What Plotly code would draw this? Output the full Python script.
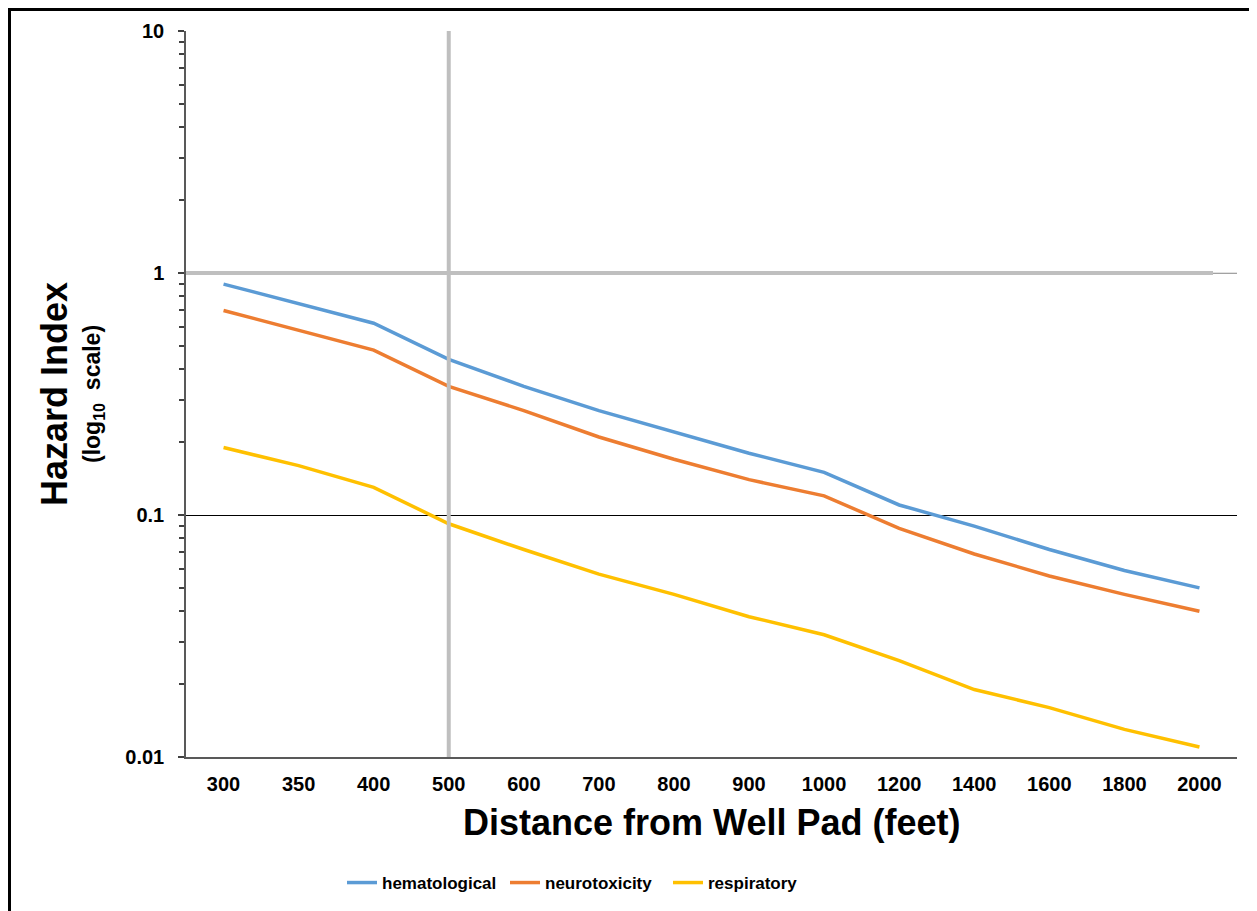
import plotly.graph_objects as go

distances = ["300", "350", "400", "500", "600", "700", "800", "900", "1000",
             "1200", "1400", "1600", "1800", "2000"]
hematological = [0.90, 0.75, 0.62, 0.44, 0.34, 0.27, 0.22, 0.18, 0.15,
                 0.11, 0.090, 0.072, 0.059, 0.050]
neurotoxicity = [0.70, 0.58, 0.48, 0.34, 0.27, 0.21, 0.17, 0.14, 0.12,
                 0.088, 0.069, 0.056, 0.047, 0.040]
respiratory = [0.19, 0.16, 0.13, 0.092, 0.072, 0.057, 0.047, 0.038, 0.032,
               0.025, 0.019, 0.016, 0.013, 0.011]
y_ticks = [0.01, 0.1, 1, 10]
y_tick_labels = ["0.01", "0.1", "1", "10"]
series = [("hematological", hematological, "#5B9BD5"),
          ("neurotoxicity", neurotoxicity, "#ED7D31"),
          ("respiratory", respiratory, "#FFC000")]
threshold_hi = 1
threshold_dist = "500"

FONT = "Arial, Liberation Sans, sans-serif"
W, H = 1257, 911
# page body has an 8px margin; coordinates below are figure coordinates
L, R, T, B = 178, 1229, 23, 749


def px(xp):
    return (xp - L) / (R - L)


def py(yp):
    return (B - yp) / (B - T)


fig = go.Figure()
for name, vals, col in series:
    fig.add_trace(go.Scatter(x=distances, y=vals, mode="lines", name=name,
                             line=dict(color=col, width=3.5)))

shapes = [
    # threshold lines
    dict(type="line", xref="paper", yref="y", x0=0, x1=px(1205), y0=threshold_hi, y1=threshold_hi,
         line=dict(color="#BFBFBF", width=4), layer="above"),
    dict(type="line", xref="paper", yref="y", x0=px(1205), x1=1, y0=threshold_hi, y1=threshold_hi,
         line=dict(color="#D9D9D9", width=1.5), layer="above"),
    dict(type="line", xref="x", yref="paper", x0=distances.index(threshold_dist),
         x1=distances.index(threshold_dist), y0=0, y1=1,
         line=dict(color="#BFBFBF", width=4), layer="above"),
    # outer frame
    dict(type="line", xref="paper", yref="paper", x0=px(1.5), x1=px(1.5), y0=py(0), y1=py(915),
         line=dict(color="black", width=3)),
    dict(type="line", xref="paper", yref="paper", x0=px(0), x1=px(1249), y0=py(1.5), y1=py(1.5),
         line=dict(color="black", width=3)),
    dict(type="line", xref="paper", yref="paper", x0=px(1247.5), x1=px(1247.5), y0=py(1), y1=py(915),
         line=dict(color="#D0D0D0", width=1)),
]

annotations = [
    dict(text="<b>Hazard Index</b>", xref="paper", yref="paper", x=px(46), y=py(386),
         textangle=-90, showarrow=False, font=dict(size=36, color="black", family=FONT),
         xanchor="center", yanchor="middle"),
    dict(text="<b>(log<sub>10</sub>  scale)</b>", xref="paper", yref="paper", x=px(85), y=py(386),
         textangle=-90, showarrow=False, font=dict(size=23, color="black", family=FONT),
         xanchor="center", yanchor="middle"),
    dict(text="<b>Distance from Well Pad (feet)</b>", xref="paper", yref="paper", x=0.5, y=py(814),
         showarrow=False, font=dict(size=36, color="black", family=FONT),
         xanchor="center", yanchor="middle"),
]

fig.update_layout(
    width=W, height=H,
    margin=dict(l=L, r=W - R, t=T, b=H - B, autoexpand=False),
    paper_bgcolor="white", plot_bgcolor="white",
    font=dict(family=FONT, color="black"),
    shapes=shapes, annotations=annotations,
    showlegend=True,
    legend=dict(orientation="h", x=px(334), y=py(875), xanchor="left", yanchor="middle",
                font=dict(size=17, color="black", family=FONT, weight="bold"),
                entrywidth=118, entrywidthmode="pixels", bgcolor="rgba(0,0,0,0)",
                itemwidth=30),
)
fig.update_xaxes(
    type="category", range=[-0.5, len(distances) - 0.5],
    showgrid=False, zeroline=False, showline=True, linecolor="#595959", linewidth=1.5,
    ticks="", tickfont=dict(size=20, color="black", family=FONT, weight="bold"),
    ticklabelstandoff=8,
)
fig.update_yaxes(
    type="log", range=[-2, 1],
    tickvals=y_ticks, ticktext=y_tick_labels,
    showgrid=True, gridcolor="black", gridwidth=1,
    zeroline=False, showline=True, linecolor="#595959", linewidth=1.5,
    ticks="outside", ticklen=6, tickcolor="#404040", tickwidth=1.5,
    minor=dict(ticks="outside", ticklen=5, dtick="D1", tickcolor="#404040", tickwidth=1.5, showgrid=False),
    tickfont=dict(size=20, color="black", family=FONT, weight="bold"),
    ticklabelstandoff=10,
)

fig.write_html("out.html")
